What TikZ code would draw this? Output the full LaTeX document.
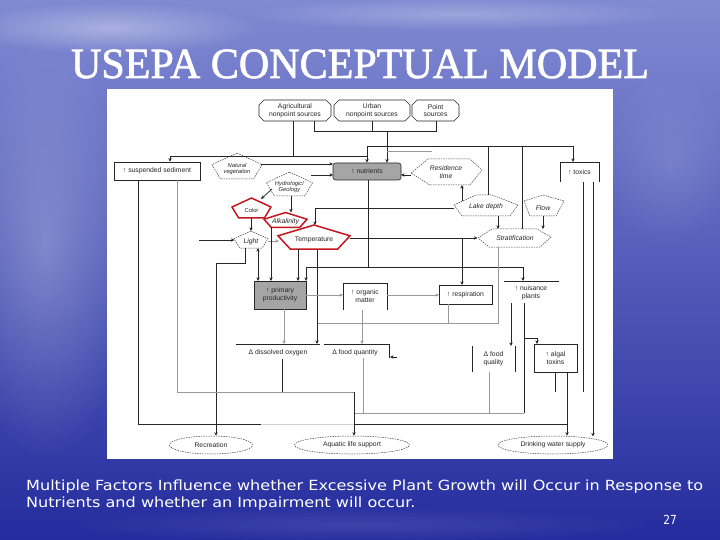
\documentclass[tikz,border=0pt]{standalone}
\usepackage{fontspec}
\usepackage{graphicx}
\setmainfont{Liberation Serif}
\newfontfamily\titlef[FakeBold=1.6]{Liberation Serif}
\newfontfamily\dgf{Liberation Sans}
\newfontfamily\cpf{DejaVu Sans}
\usetikzlibrary{arrows.meta,calc,fadings,shapes.geometric}
\tikzfading[name=softout, inner color=transparent!0, outer color=transparent!100]
\definecolor{bgtop}{RGB}{128,138,210}
\definecolor{bgmid}{RGB}{82,92,192}
\definecolor{bgbot}{RGB}{36,44,158}
\definecolor{redln}{RGB}{196,24,32}
\definecolor{boxgray}{RGB}{165,165,165}
\tikzset{
  ln/.style={line width=0.75pt, draw=black!85},
  gl/.style={line width=0.75pt, draw=black!40},
  fl/.style={line width=0.75pt, draw=black!18},
  arr/.style={-{Stealth[length=3.6pt,width=3.4pt]}},
  darr/.style={{Stealth[length=3.6pt,width=3.4pt]}-{Stealth[length=3.6pt,width=3.4pt]}},
  lbl/.style={font=\dgf\fontsize{6.8}{7.6}\selectfont, align=center, inner sep=0pt, text=black!85},
  slbl/.style={font=\dgf\fontsize{5.8}{6.6}\selectfont, align=center, inner sep=0pt, text=black!85},
  dsh/.style={dash pattern=on 1.5pt off 1pt, line width=0.5pt, draw=black!75},
  redsh/.style={line width=1.5pt, draw=redln, line join=miter},
  boxd/.style={draw=black!85, line width=0.6pt},
  ell/.style={lbl, ellipse, draw=black!75, dash pattern=on 1.5pt off 1pt, line width=0.5pt},
}
\newcommand\chamf[6]{%
  \draw[boxd] ({#2+5},#3) -- ({#4-5},#3) -- (#4,{#3+5}) -- (#4,{#5-5}) -- ({#4-5},#5) -- ({#2+5},#5) -- (#2,{#5-5}) -- (#2,{#3+5}) -- cycle;
  \node[lbl] (#1) at ({(#2+#4)/2},{(#3+#5)/2}) {#6};}
\newcommand\pent[8]{%
  \draw[#1] (#3,{#4-#6/2}) -- ({#3+#5/2},{#4-#6/2+0.45*#6}) -- ({#3+0.33*#5},{#4+#6/2}) -- ({#3-0.33*#5},{#4+#6/2}) -- ({#3-#5/2},{#4-#6/2+0.45*#6}) -- cycle;
  \node[#8] (#2) at (#3,{#4+0.12*#6}) {#7};}
\newlength\capw
\begin{document}
\settowidth\capw{\cpf\fontsize{14}{16}\selectfont Multiple Factors Influence whether Excessive Plant Growth will Occur in Response to}%
\pgfmathsetmacro\capf{677/\capw}%
\begin{tikzpicture}[x=1pt,y=-1pt]
\useasboundingbox (0,0) rectangle (720,540);
% background
\shade[top color=bgtop, middle color=bgmid, bottom color=bgbot] (0,0) rectangle (720,540);
\fill[white, opacity=0.35, path fading=softout] (110,28) ellipse [x radius=150pt, y radius=26pt];
\fill[white, opacity=0.25, path fading=softout] (460,14) ellipse [x radius=220pt, y radius=16pt];
\fill[white, opacity=0.25, path fading=softout] (45,250) ellipse [x radius=90pt, y radius=210pt];
\fill[white, opacity=0.12, path fading=softout] (670,160) ellipse [x radius=70pt, y radius=90pt];
\fill[white, opacity=0.10, path fading=softout] (360,525) ellipse [x radius=300pt, y radius=18pt];
% title
\node[anchor=base, inner sep=0, text=white] (title) at (360,78) {\resizebox{578pt}{\height}{\titlef\fontsize{43}{46}\selectfont USEPA CONCEPTUAL MODEL}};
% panel
\fill[white] (107,89) rectangle (613,459);
% sources
\chamf{ag}{259}{100}{331}{121}{Agricultural\\nonpoint sources}
\chamf{ur}{334}{100}{410}{121}{Urban\\nonpoint sources}
\chamf{ps}{412}{100}{459}{121}{Point\\sources}
% factor shapes
\pent{dsh}{nv}{237}{166}{50}{26}{\itshape Natural\\\itshape vegetation}{slbl}
\pent{dsh}{hg}{289.5}{184}{46}{24}{\itshape Hydrologic/\\\itshape Geology}{slbl}
\pent{redsh}{col}{251.5}{208}{39}{20}{Color}{slbl}
\pent{redsh}{alk}{285.5}{220}{43}{15}{\itshape Alkalinity}{lbl}
\pent{redsh}{tmp}{314}{237}{72}{24}{Temperature}{lbl}
\pent{dsh}{lt}{251}{239.5}{34}{17}{\itshape Light}{lbl}
\draw[dsh] (411,173) -- (428,159) -- (470,159) -- (482,170) -- (470,185) -- (430,185) -- cycle;
\node[lbl] (rt) at (446,172) {\itshape Residence\\\itshape time};
\draw[dsh] (454,205) -- (476,195) -- (492,195) -- (518,205) -- (510,216) -- (462,216) -- cycle;
\node[lbl] (ld) at (486,207) {\itshape Lake depth};
\draw[dsh] (524,201) -- (543,195) -- (564,201) -- (556,216) -- (530,216) -- cycle;
\node[lbl] (flw) at (543,208) {\itshape Flow};
\draw[dsh] (478,238) -- (492,229) -- (537,229) -- (551,237) -- (540,247) -- (489,247) -- cycle;
\node[lbl] (st) at (515,238) {\itshape Stratification};
% boxes
\node[lbl, boxd, draw, minimum width=86pt, minimum height=18pt] (sed) at (157,171) {↑ suspended sediment};
\node[lbl, boxd, draw, fill=boxgray, rounded corners=2.5pt, minimum width=68pt, minimum height=17pt] (nut) at (367,171.5) {↑ nutrients};
\node[lbl] (tox) at (579.5,172) {↑ toxics};
\draw[boxd] (560,182) -- (560,162) -- (599,162) -- (599,182);
\node[lbl, boxd, draw, fill=boxgray, minimum width=52pt, minimum height=28pt] (pp) at (280,295) {↑ primary\\productivity};
\node[lbl] (om) at (365,296) {↑ organic\\matter};
\draw[boxd] (343,310) -- (343,283) -- (387,283) -- (387,310);
\node[lbl, boxd, draw, minimum width=53pt, minimum height=19pt] (rsp) at (465.5,294.5) {↑ respiration};
\node[lbl] (nui) at (531,293) {↑ nuisance\\plants};
\draw[boxd] (504,281) -- (559,281);
\node[lbl] (do) at (278,353) {Δ dissolved oxygen};
\draw[boxd] (236,344) -- (320,344);
\node[lbl] (fqn) at (355,353) {Δ food quantity};
\draw[boxd] (324,344) -- (389,344) -- (389,358);
\node[lbl] (fql) at (493.5,359) {Δ food\\quality};
\draw[boxd] (472,346) -- (472,372);
\draw[boxd] (515,346) -- (515,372);
\node[lbl, boxd, draw, minimum width=43pt, minimum height=28pt] (alg) at (555.5,358) {↑ algal\\toxins};
\node[ell, minimum width=83pt, minimum height=18pt] (rec) at (211,445) {Recreation};
\node[ell, minimum width=115pt, minimum height=18pt] (als) at (352,445) {Aquatic life support};
\node[ell, minimum width=110pt, minimum height=18pt] (dws) at (553,445) {Drinking water supply};
% connectors: sources
\draw[ln] (293,121) -- (293,156);
\draw[ln] (170,156) -- (367,156) -- (367,146) -- (573,146);
\draw[ln,arr] (170,156) -- (sed.north -| 170,0);
\draw[ln,arr] (367,156) -- (nut.north -| 367,0);
\draw[ln,arr] (573,146) -- (573,162);
\draw[ln] (314,121) -- (314,131) -- (436,131) -- (436,121);
\draw[ln] (372,121) -- (372,131);
\draw[ln,arr] (387,131) -- (nut.north -| 387,0);
\draw[gl] (387,151) -- (432,151);
\draw[ln] (488,146) -- (488,195);
\draw[ln] (522,146) -- (522,229);
% second row
\draw[ln,arr] (261,164) -- (333,164);
\draw[ln,arr] (311,175) -- (333,175);
\draw[ln,arr] (411,175) -- (401,175);
\draw[ln,arr] (272,189) -- (261,199);
\draw[ln,arr] (291,196) -- (291,212.5);
\draw[ln,arr] (462,201) -- (462,185);
\draw[ln,arr] (498,216) -- (498,229);
\draw[ln,arr] (543,216) -- (543,229);
\draw[ln,arr] (454,208) -- (315,208) -- (315,225);
\draw[ln,arr] (251,218) -- (251,231);
\draw[ln,arr] (199,240) -- (234.5,240);
\draw[gl,arr] (268,241) -- (279,241);
\draw[ln,darr] (258,248) -- (258,281);
\draw[ln,arr] (245,248) -- (245,263) -- (216,263) -- (rec.north -| 216,0);
\draw[ln,arr] (271,227.5) -- (271,281);
\draw[ln,arr] (298,249) -- (298,281);
\draw[ln,arr] (317,249) -- (317,344);
\draw[ln] (368,180) -- (368,267);
\draw[ln] (306,267) -- (523,267);
\draw[ln,arr] (306,267) -- (306,281);
\draw[ln,arr] (523,267) -- (523,281);
\draw[ln] (350,238) -- (462,238);
\draw[ln,arr] (462,238) -- (477.5,238);
\draw[ln,arr] (462,238) -- (462,285);
% lower part
\draw[gl,arr] (306,295) -- (343,295);
\draw[gl,arr] (387,295) -- (439,295);
\draw[gl,arr] (362,310) -- (362,344);
\draw[gl,arr] (284,309) -- (284,344);
\draw[gl] (498,247) -- (498,323) -- (318,323);
\draw[gl] (448,304) -- (448,323);
\draw[ln,arr] (511,303) -- (511,346);
\draw[ln] (524,303) -- (524,413);
\draw[gl] (524,413) -- (354,413);
\draw[ln,arr] (524,338) -- (537,338) -- (537,344);
\draw[gl] (363,358) -- (363,413);
\draw[gl] (489,372) -- (489,413);
\draw[ln] (138,180) -- (138,424) -- (261,424);
\draw[fl] (261,424) -- (354,424);
\draw[ln] (354,424) -- (567,424);
\draw[gl] (177,180) -- (177,392) -- (354,392);
\draw[ln,arr] (354,392) -- (als.north -| 354,0);
\draw[ln] (282,359) -- (282,392);
\draw[ln] (555,372) -- (555,392);
\draw[ln,arr] (567,372) -- (dws.north -| 567,0);
\draw[ln] (583,182) -- (583,392);
\draw[ln,arr] (593,182) -- (593,436.5);
\draw[ln,arr] (397,357) -- (390,357);
% caption
\node[anchor=base west, inner sep=0, text=white, font=\cpf\fontsize{14}{16}\selectfont] (cap1) at (26,490) {\scalebox{\capf}[1]{Multiple Factors Influence whether Excessive Plant Growth will Occur in Response to}};
\node[anchor=base west, inner sep=0, text=white, font=\cpf\fontsize{14}{16}\selectfont] (cap2) at (26,507) {\scalebox{\capf}[1]{Nutrients and whether an Impairment will occur.}};
\node[anchor=base east, inner sep=0, text=white, font=\cpf\fontsize{12.5}{14}\selectfont] (pg) at (677,524) {\scalebox{0.85}[1]{27}};
\end{tikzpicture}
\end{document}
